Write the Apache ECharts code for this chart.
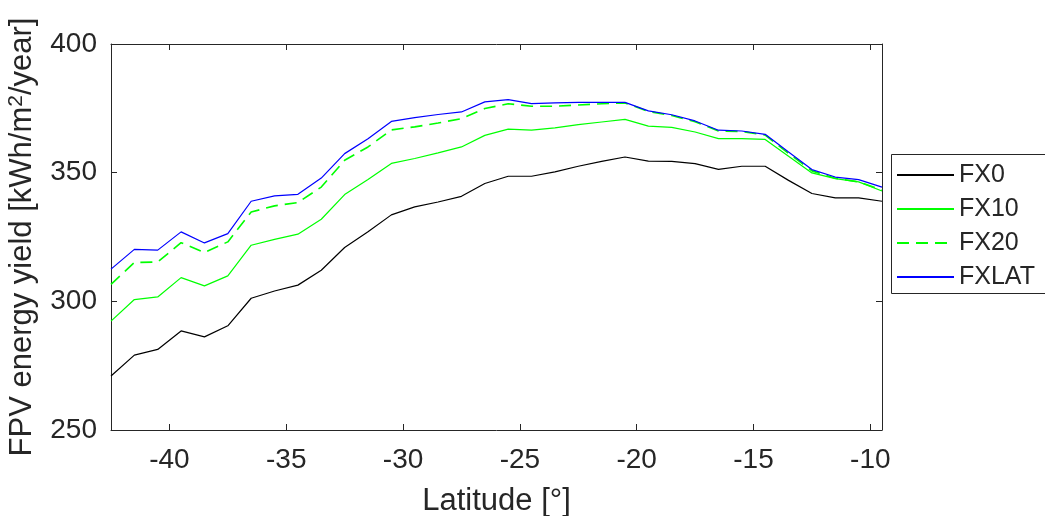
<!DOCTYPE html>
<html>
<head>
<meta charset="utf-8">
<script src="https://cdn.jsdelivr.net/npm/echarts@6/dist/echarts.min.js"></script>
<style>
html,body{margin:0;padding:0;background:#fff;}
#chart{width:1045px;height:516px;}
</style>
</head>
<body>
<div id="chart"></div>
<script>
const latitude = [-42.5, -41.5, -40.5, -39.5, -38.5, -37.5, -36.5, -35.5, -34.5, -33.5, -32.5, -31.5, -30.5, -29.5, -28.5, -27.5, -26.5, -25.5, -24.5, -23.5, -22.5, -21.5, -20.5, -19.5, -18.5, -17.5, -16.5, -15.5, -14.5, -13.5, -12.5, -11.5, -10.5, -9.5];
const FX0 = [271.0, 279.1, 281.3, 288.5, 286.2, 290.5, 301.2, 304.0, 306.3, 312.1, 320.9, 327.0, 333.6, 336.7, 338.6, 340.8, 345.8, 348.6, 348.6, 350.3, 352.5, 354.4, 356.1, 354.5, 354.4, 353.5, 351.3, 352.5, 352.5, 347.0, 341.9, 340.2, 340.2, 338.9];
const FX10 = [292.3, 300.7, 301.7, 309.2, 306.0, 309.9, 321.8, 324.1, 326.1, 331.9, 341.5, 347.3, 353.6, 355.5, 357.7, 360.0, 364.5, 366.9, 366.5, 367.4, 368.7, 369.7, 370.7, 368.1, 367.6, 365.8, 363.2, 363.2, 362.9, 356.4, 349.9, 347.7, 346.4, 342.9];
const FX20 = [306.6, 315.1, 315.3, 322.8, 319.0, 323.1, 334.7, 337.1, 338.4, 344.4, 354.8, 360.0, 366.6, 367.8, 369.3, 371.0, 374.9, 376.8, 375.8, 375.8, 376.3, 376.8, 377.1, 373.8, 372.2, 369.8, 366.2, 366.0, 364.6, 357.5, 350.7, 347.8, 346.4, 343.2];
const FXLAT = [312.5, 320.2, 319.9, 327.0, 322.7, 326.3, 338.9, 341.0, 341.6, 347.9, 357.4, 363.2, 369.9, 371.4, 372.6, 373.6, 377.5, 378.4, 376.8, 377.1, 377.3, 377.3, 377.3, 374.0, 372.5, 370.1, 366.5, 366.2, 364.9, 358.0, 351.2, 348.3, 347.3, 344.4];
const xTicks = [-40, -35, -30, -25, -20, -15, -10];
const yTicks = [250, 300, 350, 400];
const seriesNames = ['FX0', 'FX10', 'FX20', 'FXLAT'];

const AX = '#262626';
const FONT = "'Liberation Sans', Arial, sans-serif";
const zip = arr => latitude.map((x, i) => [x, arr[i]]);

const chart = echarts.init(document.getElementById('chart'), null, {renderer: 'canvas'});
const xBase = {
  type: 'value', min: -42.5, max: -9.5,
  axisLine: {show: true, onZero: false, lineStyle: {color: AX, width: 1}},
  splitLine: {show: false}
};
const yBase = {
  type: 'value', min: 250, max: 400, interval: 50,
  axisLine: {show: true, onZero: false, lineStyle: {color: AX, width: 1}},
  splitLine: {show: false}
};
const mkLine = (name, data, color, type, width) => ({
  name, type: 'line', data: zip(data), symbol: 'none', showSymbol: false,
  lineStyle: {color, width: width || 1.2, type: type || 'solid'},
  itemStyle: {color}, animation: false, z: 3
});
chart.setOption({
  animation: false,
  textStyle: {fontFamily: FONT},
  grid: {left: 111, top: 44, width: 771, height: 386, containLabel: false, outerBoundsMode: 'none'},
  xAxis: [
    Object.assign({}, xBase, {
      position: 'bottom',
      name: 'Latitude [°]', nameLocation: 'middle', nameGap: 56,
      nameTextStyle: {fontSize: 31, color: AX, fontFamily: FONT},
      axisTick: {show: true, inside: true, length: 6, lineStyle: {color: AX}, customValues: xTicks},
      axisLabel: {show: true, margin: 16, fontSize: 28, color: AX, fontFamily: FONT, customValues: xTicks}
    }),
    Object.assign({}, xBase, {
      position: 'top',
      axisTick: {show: true, inside: true, length: 6, lineStyle: {color: AX}, customValues: xTicks},
      axisLabel: {show: false}
    })
  ],
  yAxis: [
    Object.assign({}, yBase, {
      position: 'left',
      name: 'FPV energy yield [kWh/m{sup|2}/year]', nameLocation: 'middle', nameGap: 64,
      nameTextStyle: {fontSize: 31, color: AX, fontFamily: FONT, lineHeight: 34,
        rich: {sup: {fontSize: 21, color: AX, fontFamily: FONT, verticalAlign: 'top', lineHeight: 12}}},
      axisTick: {show: true, inside: true, length: 6, lineStyle: {color: AX}},
      axisLabel: {show: true, margin: 14, fontSize: 28, color: AX, fontFamily: FONT}
    }),
    Object.assign({}, yBase, {
      position: 'right',
      axisTick: {show: true, inside: true, length: 6, lineStyle: {color: AX}},
      axisLabel: {show: false}
    })
  ],
  legend: {
    orient: 'vertical', left: 891, top: 155,
    data: seriesNames,
    itemWidth: 57, itemHeight: 2, itemGap: 4, itemTextGap: 3,
    itemStyle: {opacity: 0},
    textStyle: {fontSize: 25, color: AX, fontFamily: FONT, lineHeight: 30},
    selectedMode: false
  },
  graphic: [{
    type: 'rect', shape: {x: 891.5, y: 154.5, width: 200, height: 139},
    style: {fill: '#fff', stroke: AX, lineWidth: 1}, z: 0, silent: true
  }],
  series: [
    mkLine('FX0', FX0, '#000000'),
    mkLine('FX10', FX10, '#00ff00'),
    mkLine('FX20', FX20, '#00ff00', [12, 7], 1.6),
    mkLine('FXLAT', FXLAT, '#0000ff')
  ]
});
</script>
</body>
</html>
